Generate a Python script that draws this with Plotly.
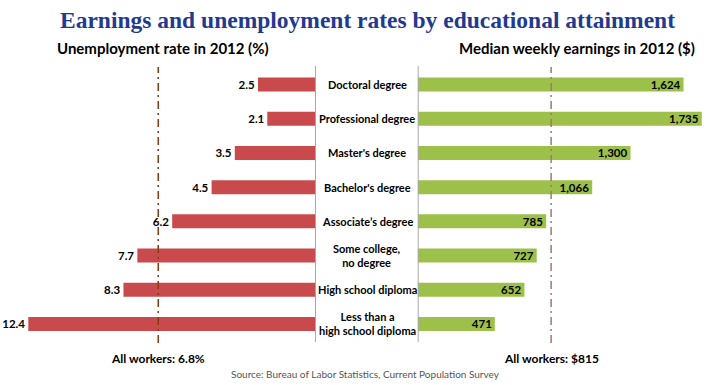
import plotly.graph_objects as go

categories = ["Doctoral degree", "Professional degree", "Master's degree", "Bachelor's degree",
              "Associate\u2019s degree", "Some college,<br>no degree", "High school diploma",
              "Less than a<br>high school diploma"]
unemployment = [2.5, 2.1, 3.5, 4.5, 6.2, 7.7, 8.3, 12.4]
earnings = [1624, 1735, 1300, 1066, 785, 727, 652, 471]
earn_labels = ["1,624", "1,735", "1,300", "1,066", "785", "727", "652", "471"]
all_unemp = 6.8
all_earn = 815

W, H = 720, 385
font_fam = "Lato"
RED = "#c94a4c"
GREEN = "#9dc04a"

fig = go.Figure()
fig.add_trace(go.Bar(
    y=categories, x=unemployment, orientation="h", xaxis="x", yaxis="y",
    marker=dict(color=RED, line=dict(width=0)), width=0.41,
    text=[f"{v:.1f}" for v in unemployment], textposition="outside",
    constraintext="none",
    textfont=dict(family=font_fam, size=11.5, color="black", weight="bold"),
    cliponaxis=False, showlegend=False, hoverinfo="skip"))
fig.add_trace(go.Bar(
    y=categories, x=earnings, orientation="h", xaxis="x2", yaxis="y2",
    marker=dict(color=GREEN, line=dict(width=0)), width=0.41,
    text=earn_labels, textposition="inside", insidetextanchor="end",
    constraintext="none",
    textfont=dict(family=font_fam, size=11.5, color="black", weight="bold"),
    showlegend=False, hoverinfo="skip"))

left_zero = 316.0
left_scale = 23.2
right_zero = 417.7
right_scale = 0.1637
y_top = 67.45
y_bot = 341.05
ydom = [(H - y_bot) / H, (H - y_top) / H]

fig.update_layout(
    width=W, height=H, margin=dict(l=0, r=0, t=0, b=0),
    paper_bgcolor="white", plot_bgcolor="rgba(0,0,0,0)",
    bargap=0.59,
    xaxis=dict(domain=[0, left_zero / W], range=[left_zero / left_scale, 0],
               visible=False, fixedrange=True),
    xaxis2=dict(domain=[right_zero / W, 1], range=[0, (W - right_zero) / right_scale],
                visible=False, fixedrange=True),
    yaxis=dict(domain=ydom, categoryorder="array", categoryarray=categories,
               autorange="reversed", visible=False, anchor="x", fixedrange=True),
    yaxis2=dict(domain=ydom, categoryorder="array", categoryarray=categories,
                autorange="reversed", visible=False, anchor="x2", matches="y"),
)

shapes = []
for xr in ("x", "x2"):
    shapes.append(dict(type="line", xref=xr, yref="paper", x0=0, x1=0,
                       y0=(H - 342) / H, y1=(H - 66) / H,
                       line=dict(color="#a8a8a8", width=2), layer="above"))
shapes.append(dict(type="line", xref="x", yref="paper", x0=all_unemp, x1=all_unemp,
                   y0=(H - 343) / H, y1=(H - 67) / H,
                   line=dict(color="#8a3a12", width=1.5, dash="8px,4px,2px,4px"), layer="above"))
shapes.append(dict(type="line", xref="x2", yref="paper", x0=all_earn, x1=all_earn,
                   y0=(H - 343) / H, y1=(H - 67) / H,
                   line=dict(color="#9c7b6b", width=1.5, dash="8px,4px,2px,4px"), layer="above"))
fig.update_layout(shapes=shapes)

ann = []
for c in categories:
    ann.append(dict(x=367 / W, xref="paper", y=c, yref="y", text=c, showarrow=False,
                    xanchor="center", yanchor="middle", align="center",
                    font=dict(family=font_fam, size=11, color="black", weight="bold")))
ann.append(dict(x=367.5 / W, xref="paper", y=(H - 20) / H, yref="paper",
                text="Earnings and unemployment rates by educational attainment",
                showarrow=False, xanchor="center", yanchor="middle",
                font=dict(family="Liberation Serif", size=23.5, color="#1f3a8f", weight="bold")))
ann.append(dict(x=55 / W, xref="paper", y=(H - 48) / H, yref="paper",
                text="Unemployment rate in 2012 (%)", showarrow=False,
                xanchor="left", yanchor="middle",
                font=dict(family=font_fam, size=15, color="black", weight="bold")))
ann.append(dict(x=697 / W, xref="paper", y=(H - 48) / H, yref="paper",
                text="Median weekly earnings in 2012 ($)", showarrow=False,
                xanchor="right", yanchor="middle",
                font=dict(family=font_fam, size=15, color="black", weight="bold")))
ann.append(dict(x=all_unemp, xref="x", y=(H - 358) / H, yref="paper",
                text=f"All workers: {all_unemp}%", showarrow=False,
                xanchor="center", yanchor="middle",
                font=dict(family=font_fam, size=12, color="black", weight="bold")))
ann.append(dict(x=all_earn, xref="x2", y=(H - 358) / H, yref="paper",
                text=f"All workers: ${all_earn}", showarrow=False,
                xanchor="center", yanchor="middle",
                font=dict(family=font_fam, size=12, color="black", weight="bold")))
ann.append(dict(x=365 / W, xref="paper", y=(H - 374) / H, yref="paper",
                text="Source: Bureau of Labor Statistics, Current Population Survey",
                showarrow=False, xanchor="center", yanchor="middle",
                font=dict(family=font_fam, size=10, color="#555555")))
fig.update_layout(annotations=ann)

fig.write_html("out.html", config={"displayModeBar": False, "staticPlot": True},
               post_script="document.body.style.margin='0';document.body.style.overflow='hidden';")
